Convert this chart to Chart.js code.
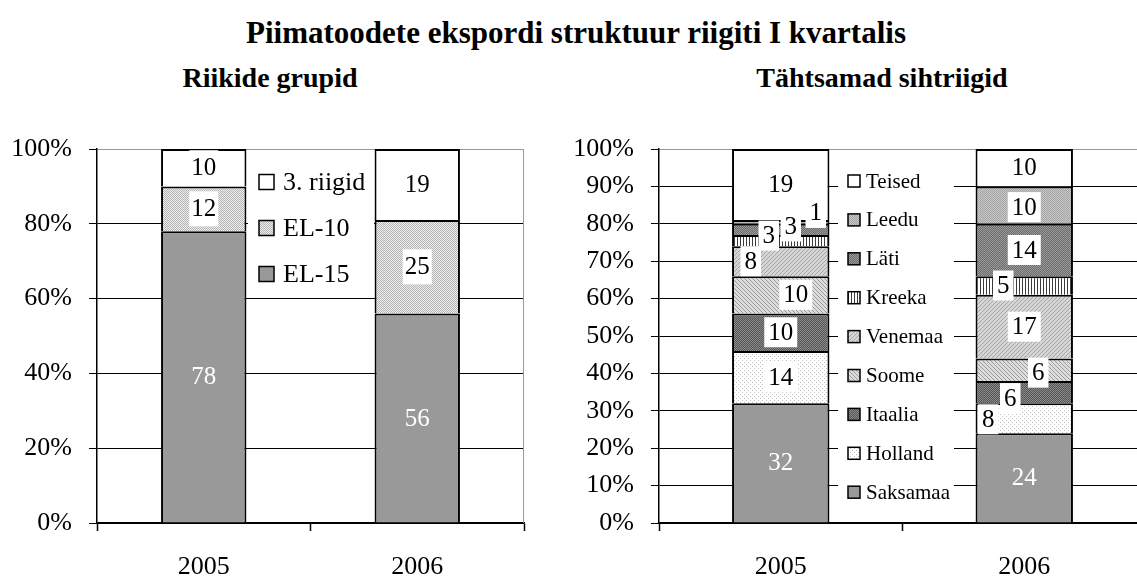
<!DOCTYPE html>
<html>
<head>
<meta charset="utf-8">
<script src="https://cdn.jsdelivr.net/npm/chart.js@4.4.1/dist/chart.umd.min.js"></script>
<style>
  html, body { margin: 0; padding: 0; background: #fff; }
  body { width: 1137px; height: 576px; overflow: hidden; position: relative; font-family: "Liberation Serif", "Times New Roman", serif; color: #000; }
  .t { position: absolute; white-space: nowrap; font-weight: bold; line-height: 1; transform: translateX(-50%); }
  #title { left: 576px; top: 17px; font-size: 31px; }
  #sub1 { left: 270px; top: 64px; font-size: 28px; }
  #sub2 { left: 882px; top: 64px; font-size: 28px; }
  #pageno { position: absolute; right: 2px; top: -19px; font-size: 23px; line-height: 1; }
  canvas { position: absolute; top: 130px; }
  #cL { left: 0; }
  #cR { left: 560px; }
</style>
</head>
<body>
<div id="pageno">100</div>
<div class="t" id="title">Piimatoodete ekspordi struktuur riigiti I kvartalis</div>
<div class="t" id="sub1">Riikide grupid</div>
<div class="t" id="sub2">Tähtsamad sihtriigid</div>
<canvas id="cL" width="560" height="460"></canvas>
<canvas id="cR" width="600" height="460"></canvas>
<script>
// --- andmed ---
const years = ['2005', '2006'];

// riikide grupid, %
const el15 = [78, 56];
const el10 = [12, 25];
const riigid3 = [10, 19];

// sihtriigid, %
const saksamaa = [32, 24];
const holland = [14, 8];
const itaalia = [10, 6];
const soome = [10, 6];
const venemaa = [8, 17];
const kreeka = [3, 5];
const lati = [3, 14];
const leedu = [1, 10];
const teised = [19, 10];

// --- mustrid ---
function pattern(size, bg, fg, draw) {
  const c = document.createElement('canvas');
  c.width = size; c.height = size;
  const g = c.getContext('2d');
  g.fillStyle = bg; g.fillRect(0, 0, size, size);
  g.fillStyle = fg; draw(g, size);
  return g.createPattern(c, 'repeat');
}
const checker = (g, n) => { for (let y = 0; y < n; y++) for (let x = 0; x < n; x++) if ((x + y) % 2 === 0) g.fillRect(x, y, 1, 1); };
const sparse = (g) => { g.fillRect(0, 0, 1, 1); g.fillRect(2, 2, 1, 1); };
const diagR = (g, n) => { for (let i = 0; i < n; i++) g.fillRect(i, i, 1, 1); };
const diagL = (g, n) => { for (let i = 0; i < n; i++) g.fillRect(n - 1 - i, i, 1, 1); };
const vline = (g, n) => { g.fillRect(0, 0, 1, n); };

const GRAY = '#999999';
const fill = {
  white: '#ffffff',
  gray: GRAY,
  lightDots: pattern(4, '#eeeeee', '#b4b4b4', checker),
  holland: pattern(4, '#ffffff', '#bdbdbd', sparse),
  itaalia: pattern(4, '#555555', '#8a8a8a', checker),
  soome: pattern(4, '#dddddd', '#9a9a9a', diagR),
  venemaa: pattern(4, '#d6d6d6', '#a4a4a4', diagL),
  kreeka: pattern(3, '#ffffff', '#3a3a3a', vline),
  lati: pattern(4, '#6a6a6a', '#9c9c9c', checker),
  leedu: pattern(4, '#c6c6c6', '#a6a6a6', checker),
};

Chart.defaults.font.family = '"Liberation Serif", "Times New Roman", serif';
Chart.defaults.color = '#000';

const seg = (label, data, bg) => ({
  label, data, backgroundColor: bg,
  borderColor: '#000', borderWidth: 2, borderSkipped: 'start',
  barPercentage: 0.4, categoryPercentage: 1,
});

// arvud ribade peal
const segLabels = {
  id: 'segLabels',
  afterDatasetsDraw(chart, args, o) {
    const { ctx } = chart;
    ctx.save();
    ctx.font = `${o.size}px "Liberation Serif"`;
    ctx.textAlign = 'center';
    ctx.textBaseline = 'middle';
    chart.data.datasets.forEach((ds, di) => {
      chart.getDatasetMeta(di).data.forEach((bar, i) => {
        const txt = String(ds.data[i]);
        const sh = (o.shift[ds.label] || [])[i] || [0, 0];
        const x = bar.x + sh[0];
        const y = (bar.y + bar.base) / 2 + sh[1];
        if (o.plain.includes(ds.label)) {
          ctx.fillStyle = '#fff';
        } else {
          const w = ctx.measureText(txt).width + o.padX * 2;
          ctx.fillStyle = '#fff';
          ctx.fillRect(x - w / 2, y - o.boxH / 2, w, o.boxH);
          ctx.fillStyle = '#000';
        }
        ctx.fillText(txt, x, y + 1);
      });
    });
    ctx.restore();
  }
};

// legend valge kastiga joonise sees
const boxLegend = {
  id: 'boxLegend',
  afterDatasetsDraw(chart, args, o) {
    const { ctx } = chart;
    ctx.save();
    ctx.fillStyle = '#fff';
    ctx.fillRect(o.x, o.y, o.w, o.h);
    ctx.font = `${o.size}px "Liberation Serif"`;
    ctx.textBaseline = 'middle';
    ctx.textAlign = 'left';
    chart.data.datasets.slice().reverse().forEach((ds, k) => {
      const cy = o.y + o.first + k * o.step;
      ctx.fillStyle = ds.backgroundColor;
      ctx.fillRect(o.sx, cy - o.sw / 2, o.sw, o.sw);
      ctx.strokeStyle = '#000';
      ctx.lineWidth = 1.5;
      ctx.strokeRect(o.sx, cy - o.sw / 2, o.sw, o.sw);
      ctx.fillStyle = '#000';
      ctx.fillText(ds.label, o.tx, cy + 1);
    });
    ctx.restore();
  }
};

// hall raam paremal
const frame = {
  id: 'frame',
  beforeDatasetsDraw(chart) {
    const { ctx, chartArea: a } = chart;
    ctx.save();
    ctx.strokeStyle = '#999';
    ctx.lineWidth = 1;
    ctx.beginPath();
    ctx.moveTo(Math.round(a.right) - 0.5, a.top);
    ctx.lineTo(Math.round(a.right) - 0.5, a.bottom);
    ctx.stroke();
    ctx.restore();
  }
};

function options(step, padRight, yWidth, labelOpts, legendOpts) {
  const font = { family: '"Liberation Serif"', size: 26 };
  return {
    responsive: false,
    animation: false,
    layout: { padding: { top: 19, right: padRight, left: 0, bottom: 0 } },
    plugins: {
      legend: { display: false },
      tooltip: { enabled: false },
      segLabels: labelOpts,
      boxLegend: legendOpts,
    },
    scales: {
      x: {
        stacked: true,
        grid: { offset: true, drawOnChartArea: false, tickLength: 8, tickColor: '#000', tickWidth: 1.5 },
        border: { color: '#000', width: 1.5 },
        ticks: { color: '#000', font, padding: 21 },
        afterFit: (s) => { s.height = 67; },
      },
      y: {
        stacked: true, min: 0, max: 100,
        grid: {
          color: (c) => (c.tick && c.tick.value === 100 ? '#999' : '#000'),
          tickColor: '#000', tickLength: 8, lineWidth: 1,
        },
        border: { color: '#000', width: 1.5 },
        ticks: { stepSize: step, color: '#000', font, padding: 17, callback: (v) => v + '%' },
        afterFit: (s) => { s.width = yWidth; s.paddingTop = 0; s.paddingBottom = 0; },
      },
    },
  };
}

new Chart(document.getElementById('cL'), {
  type: 'bar',
  data: {
    labels: years,
    datasets: [
      seg('EL-15', el15, fill.gray),
      seg('EL-10', el10, fill.lightDots),
      seg('3. riigid', riigid3, fill.white),
    ],
  },
  options: options(20, 36, 97,
    { size: 25, padX: 2, boxH: 35, plain: ['EL-15'], shift: {} },
    { x: 248, y: 35, w: 126, h: 128, first: 17, step: 46, sx: 259, sw: 15, tx: 283, size: 26 }),
  plugins: [frame, segLabels, boxLegend],
});

const shiftR = {
  'Holland': [[0, 0], [-36, 1]],
  'Itaalia': [[0, 0], [-14, 6]],
  'Soome': [[15, 0], [14, 3]],
  'Venemaa': [[-30, 0], [0, 0]],
  'Kreeka': [[-12, -5], [-21, 0]],
  'Läti': [[10, -3], [0, 0]],
  'Leedu': [[35, -9], [0, 2]],
};

new Chart(document.getElementById('cR'), {
  type: 'bar',
  data: {
    labels: years,
    datasets: [
      seg('Saksamaa', saksamaa, fill.gray),
      seg('Holland', holland, fill.holland),
      seg('Itaalia', itaalia, fill.itaalia),
      seg('Soome', soome, fill.soome),
      seg('Venemaa', venemaa, fill.venemaa),
      seg('Kreeka', kreeka, fill.kreeka),
      seg('Läti', lati, fill.lati),
      seg('Leedu', leedu, fill.leedu),
      seg('Teised', teised, fill.white),
    ],
  },
  options: options(10, 14, 99,
    { size: 25, padX: 4, boxH: 30, plain: ['Saksamaa'], shift: shiftR },
    { x: 278, y: 32, w: 116, h: 348, first: 19, step: 38.9, sx: 288, sw: 12, tx: 306, size: 21 }),
  plugins: [segLabels, boxLegend],
});
</script>
</body>
</html>
